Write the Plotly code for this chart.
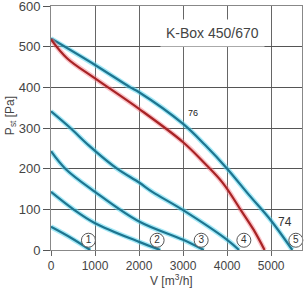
import plotly.graph_objects as go

# Fan curves (V [m3/h], P [Pa])
c1_x = [0, 450, 890]
c1_y = [57, 30, 0]
c2_x = [0, 510, 1000, 2000, 2480]
c2_y = [143, 100, 66, 20, 0]
c3_x = [0, 325, 1000, 2000, 3000, 3470]
c3_y = [243, 200, 143, 70, 25, 0]
c4_x = [0, 440, 850, 1500, 2000, 2300, 3000, 4000, 4270]
c4_y = [341, 300, 258, 200, 166, 143, 98, 25, 0]
c5_x = [0, 1000, 1800, 2000, 3000, 3500, 4000, 4500, 5000, 5480]
c5_y = [520, 455, 400, 388, 310, 258, 200, 135, 72, 0]
red_x = [0, 370, 1000, 2000, 3000, 3500, 3900, 4300, 4600, 4850]
red_y = [518, 471, 422, 347, 265, 212, 165, 100, 50, 0]

circle_labels = ["1", "2", "3", "4", "5"]
circle_x = [850, 2410, 3410, 4380, 5560]
circle_y = [24, 24, 24, 24, 24]

x_ticks = [0, 1000, 2000, 3000, 4000, 5000]
y_ticks = [0, 100, 200, 300, 400, 500, 600]

BLUE = "#1d7590"
BLUE_HALO = "rgba(90,215,240,0.55)"
RED = "#a82325"
RED_HALO = "rgba(245,120,130,0.45)"

fig = go.Figure()

def add_curve(x, y, core, halo):
    fig.add_trace(go.Scatter(x=x, y=y, mode="lines",
                             line=dict(color=halo, width=5, shape="spline", smoothing=1.0),
                             hoverinfo="skip", showlegend=False))
    fig.add_trace(go.Scatter(x=x, y=y, mode="lines",
                             line=dict(color=core, width=2.2, shape="spline", smoothing=1.0),
                             showlegend=False))

for xs, ys in [(c1_x, c1_y), (c2_x, c2_y), (c3_x, c3_y), (c4_x, c4_y), (c5_x, c5_y)]:
    add_curve(xs, ys, BLUE, BLUE_HALO)
add_curve(red_x, red_y, RED, RED_HALO)

fig.add_trace(go.Scatter(
    x=circle_x, y=circle_y, mode="markers+text", text=circle_labels,
    textposition="middle center",
    textfont=dict(family="Liberation Sans", size=10, color="#333"),
    marker=dict(symbol="circle", size=14, color="white", line=dict(color="#555", width=1)),
    showlegend=False, cliponaxis=False))

fig.add_annotation(x=3658, y=533, text="K-Box 450/670", showarrow=False,
                   font=dict(family="Liberation Sans", size=14, color="#444"),
                   bgcolor="white", borderpad=5)
fig.add_annotation(x=3220, y=336, text="76", showarrow=False,
                   font=dict(family="Liberation Sans", size=9, color="#222"))
fig.add_annotation(x=5310, y=69, text="74", showarrow=False,
                   font=dict(family="Liberation Sans", size=12, color="#333"))
fig.add_annotation(xref="paper", yref="paper", x=0.48, y=-0.123,
                   xanchor="center", yanchor="middle",
                   text="V [m<sup>3</sup>/h]", showarrow=False,
                   font=dict(family="Liberation Sans", size=12, color="#444"))
fig.add_annotation(xref="paper", yref="paper", x=-0.162, y=0.55,
                   xanchor="center", yanchor="middle",
                   text="P<sub>st</sub> [Pa]", showarrow=False, textangle=-90,
                   font=dict(family="Liberation Sans", size=12, color="#444"))

fig.update_layout(
    width=304, height=290,
    margin=dict(l=51, r=2, t=6, b=40),
    paper_bgcolor="white", plot_bgcolor="white",
    font=dict(family="Liberation Sans", size=12, color="#444"),
    xaxis=dict(range=[0, 5700], tickvals=x_ticks, showgrid=True, gridcolor="#666",
               gridwidth=1, zeroline=False, showline=True, linecolor="#888", mirror=True,
               ticks="outside", ticklen=5, tickcolor="#666", automargin=False,
               ticklabeloverflow="allow"),
    yaxis=dict(range=[0, 600], tickvals=y_ticks, showgrid=True, gridcolor="#555",
               gridwidth=1, zeroline=False, showline=True, linecolor="#888", mirror=True,
               ticks="outside", ticklen=7, tickcolor="#555", automargin=False,
               tickfont=dict(size=13), ticklabeloverflow="allow"),
)

fig.write_html("out.html")
